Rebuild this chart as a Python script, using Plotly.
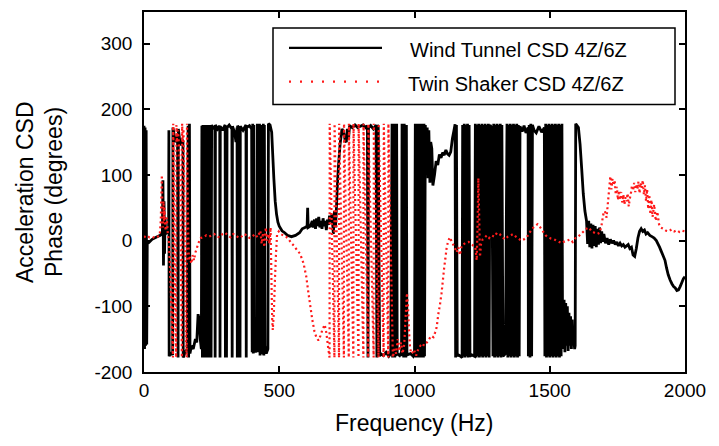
import plotly.graph_objects as go

# ---------------- Wind tunnel CSD 4Z/6Z phase (degrees) ----------------
wind_f1 = [0, 2, 4, 6, 8, 10, 12, 20, 30, 45, 60, 68,
           70, 72, 74, 76, 78, 80, 86, 91, 92, 93,
           100, 106, 107, 112, 118, 124, 126, 127, 134, 140, 144, 145,
           152, 160, 163, 165, 168, 170, 175, 182, 190, 195, 200, 204, 208, 212]
wind_p1 = [175, -165, 172, -160, 168, -158, -5, -2, 2, 5, 8, 12,
           92, -38, 60, -20, 35, 10, 14, 16, 168, -176,
           -170, -174, 172, 160, 150, 162, -178, 170, 145, 155, 150, -178,
           -170, -165, 175, -178, 178, -172, -160, -165, -150, -155, -112, -120, -150, -165]

wind_f2 = [214, 216, 218, 220, 222, 224, 226, 228, 230, 232,
           234, 236, 238, 240, 242, 244, 246, 248, 250, 256,
           262, 263, 264, 272, 280, 281, 282, 290, 300, 301,
           303, 305, 307, 315, 325, 326, 327, 335, 340, 344,
           345, 346, 354, 355, 356, 366, 377, 378, 379, 390,
           398, 400, 402, 404, 406, 408, 412, 418, 419, 421,
           423, 425, 427, 429, 431, 433, 436, 440, 441, 443,
           445, 447, 452, 458, 460, 466, 472, 476, 480, 485,
           490, 495, 500, 510]
wind_p2 = [175, -178, 176, -178, 174, -178, 176, -178, 172, -178,
           176, -178, 174, -178, 176, -178, 172, -178, 176, 170,
           174, -178, 176, 170, 175, -178, 174, 168, 176, -178,
           175, -178, 172, 176, 170, -178, 174, 165, 150, 172,
           -178, 175, 170, -178, 174, 168, 176, -178, 172, 175,
           170, -170, 178, -172, 176, -165, -170, -160, 178, -170,
           176, -168, 178, -175, 176, -165, -170, -172, 178, -175,
           176, -160, -172, -165, 178, 176, 165, 130, 95, 60,
           40, 28, 22, 15]

wind_f3 = [520, 530, 545, 560, 575, 585, 595, 603, 605, 607,
           615, 622, 625, 630, 634, 638, 642, 646, 650, 654,
           658, 662, 666, 670, 674, 678, 682, 686, 690, 695,
           700, 704, 708, 712, 716, 720, 725, 732, 738, 744,
           748, 752, 756, 760, 770, 780, 790, 800, 810, 820,
           826]
wind_p3 = [12, 8, 6, 8, 12, 18, 20, 22, 50, 20,
           22, 30, 20, 32, 18, 34, 22, 36, 20, 30,
           18, 34, 22, 30, 16, 32, 24, 38, 28, 40,
           10, 45, 20, 55, 95, 120, 147, 170, 165, 152,
           150, 170, 155, 175, 172, 176, 172, 174, 176, 172,
           175]

wind_f4 = [828, 830, 838, 848, 858, 861, 863, 866, 871, 875,
           885, 895, 905, 912, 917, 919, 921, 923, 925, 927,
           929, 931, 934, 936, 945, 952, 954, 956, 958, 960,
           962, 964, 966, 968, 970, 972, 985, 995, 1000, 1003,
           1005, 1007, 1009, 1011, 1013, 1015, 1017, 1019, 1021, 1023,
           1025, 1027, 1029, 1031, 1033, 1035, 1037, 1040]
wind_p4 = [-178, 172, 175, 170, 176, -178, 176, 172, -176, -172,
           -175, -170, -176, -172, 178, -178, 176, -176, 178, -178,
           176, -176, 178, -172, -175, -170, 178, -176, 176, -178,
           178, -176, 176, -178, 176, -174, -172, -176, -170, 178,
           -178, 176, -178, 178, -176, 176, -178, 178, -176, 176,
           -178, 178, -176, 176, -178, 178, -176, 176]

wind_f5 = [1044, 1047, 1050, 1053, 1057, 1060, 1064, 1068, 1074, 1080,
           1086, 1092, 1098, 1104, 1110, 1116, 1122, 1128, 1134, 1140,
           1146, 1150]
wind_p5 = [110, 172, 95, 168, 88, 150, 140, 84, 100, 121,
           115, 131, 126, 134, 130, 138, 132, 130, 135, 155,
           168, 177]

wind_f6 = [1152, 1155, 1158, 1162, 1170, 1176, 1178, 1181, 1184, 1187,
           1190, 1193, 1196, 1199, 1202, 1205, 1212, 1222, 1225, 1228,
           1231, 1234, 1237, 1240, 1243, 1246, 1249, 1252, 1255, 1258,
           1261, 1264, 1267, 1270, 1273, 1276, 1279, 1286, 1290, 1293,
           1296, 1299, 1302, 1305, 1308, 1311, 1314, 1317, 1320, 1323,
           1327, 1336, 1342, 1345, 1348, 1351, 1354, 1357, 1360, 1363,
           1366, 1369, 1372, 1375, 1378, 1381, 1384, 1387, 1390, 1398,
           1405, 1412, 1420, 1421, 1424, 1427, 1430, 1433, 1436, 1442,
           1450, 1460, 1470, 1480, 1482, 1485, 1488, 1491, 1494, 1497,
           1500, 1503, 1506, 1509, 1512, 1515, 1518, 1521, 1524, 1527,
           1530, 1533, 1536, 1539, 1542, 1545, 1547, 1550, 1553, 1556,
           1559, 1562, 1565, 1568, 1571, 1574, 1577, 1580, 1583, 1586,
           1589, 1592, 1594, 1596, 1606, 1612, 1618, 1624, 1630]
wind_p6 = [-178, 176, -176, -174, -176, -178, 176, -176, 178, -178,
           176, -176, 178, -178, 176, -176, -174, -176, 178, -178,
           176, -176, 178, -178, 176, -176, 178, -178, 176, -176,
           178, -178, 176, -176, 178, -178, 176, 172, -176, 178,
           -178, 176, -176, 178, -178, 176, -176, 178, -178, 176,
           -176, -172, 178, -178, 176, -176, 178, -178, 176, -176,
           178, -178, 176, -176, 178, -178, 176, -176, 174, 166,
           175, 164, 172, -176, 176, -178, 178, -176, 176, 168,
           164, 174, 165, 172, -176, 178, -178, 176, -176, 178,
           -178, 176, -176, 178, -178, 176, -176, 178, -178, 176,
           -176, 178, -178, 176, -176, 178, -100, -165, -90, -170,
           -95, -160, -100, -168, -110, -160, -115, -165, -120, -158,
           -150, -165, -160, 178, 172, 147, 110, 71, 45]

wind_f7 = [1636, 1640, 1644, 1648, 1652, 1656, 1660, 1664, 1668, 1672,
           1676, 1680, 1684, 1688, 1692, 1696, 1700, 1706, 1712, 1718,
           1724, 1730, 1736, 1742, 1748, 1754, 1760, 1766, 1772, 1778,
           1784, 1790, 1796, 1802, 1808, 1814, 1820, 1826, 1832, 1838,
           1844, 1850, 1856, 1862, 1870, 1878, 1886, 1894, 1900, 1906,
           1912, 1918, 1926, 1932, 1938, 1945, 1952, 1958, 1964, 1970,
           1976, 1982, 1988, 1994, 2000]
wind_p7 = [30, -5, 30, -10, 26, -12, 24, -8, 22, -10,
           18, -6, 20, -4, 14, -2, 10, -4, 4, -6,
           2, -4, 0, -6, -2, -8, -4, -8, -6, -10,
           -8, -6, -12, -10, -22, -24, -12, 4, 14, 18,
           14, 16, 10, 12, 8, 6, 4, 0, -5, -10,
           -16, -22, -30, -42, -52, -60, -66, -70, -72, -76,
           -75, -70, -64, -58, -55]

# ---------------- Twin shaker CSD 4Z/6Z phase (degrees) ----------------
shaker_f1 = [0, 10, 20, 30, 40, 50, 58, 62, 66, 68,
             70, 72, 74, 76, 78, 80, 84, 88, 92, 96,
             100, 104, 107, 108, 110, 113, 116, 119, 120, 122,
             126, 130, 134, 137, 140, 141, 143, 146, 149, 152,
             155, 158, 159, 161, 164, 166, 170, 175, 180, 185,
             190, 195, 200, 205, 210]
shaker_p1 = [5, 8, 5, 6, 4, 6, 8, 30, 100, 40,
             20, 60, 30, 50, 25, 15, 35, 10, 0, -40,
             -90, -140, -178, 178, 100, -20, -120, -178, 176, 150,
             168, 140, 60, -60, -178, 178, 150, 170, 80, -40,
             -150, -178, 178, 90, 0, -30, -25, -35, -22, -30,
             -18, -12, -5, 0, 4]

shaker_f2 = [220, 230, 240, 250, 260, 270, 280, 290, 300, 310,
             320, 330, 340, 350, 360, 370, 380, 390, 400, 410,
             420, 430, 435, 440, 445, 450, 455, 460, 464, 468,
             470, 472, 474, 476, 480, 484, 488, 492, 498, 505,
             515, 525, 535, 545, 555, 565, 577, 590, 600, 608,
             615, 622, 630, 638, 645, 652, 660, 668, 674, 680,
             686]
shaker_p2 = [5, 8, 6, 8, 10, 6, 5, 10, 12, 8,
             5, 10, 8, 4, 6, 10, 8, 4, 6, 10,
             5, 15, -5, 12, -10, 20, 0, 10, -5, 20,
             -30, -80, -120, -136, -110, -60, -20, 10, 14, 10,
             8, 6, 2, -4, -8, -14, -20, -35, -55, -80,
             -100, -120, -138, -148, -152, -145, -135, -128, -140, -160,
             -178]

shaker_f3 = [686.5, 704, 704.5, 721, 721.5, 739, 739.5, 757, 757.5, 774,
             774.5, 793, 793.5, 811, 811.5, 829, 829.5, 849, 849.5, 867,
             867.5, 886, 886.5, 903, 903.5, 920]
shaker_p3 = [178, -178, 178, -178, 178, -178, 178, -178, 178, -178,
             178, -178, 178, -178, 178, -178, 178, -178, 178, -178,
             178, -178, 178, -178, 178, -178]

shaker_f4 = [926, 932, 938, 944, 950, 956, 962, 968, 972, 976,
             980, 984, 990, 998, 1006, 1014, 1022, 1030, 1038, 1046,
             1054, 1062, 1070, 1076, 1082, 1088, 1094, 1100, 1106, 1110,
             1114, 1119, 1125, 1131, 1136, 1142]
shaker_p4 = [-165, -172, -150, -168, -155, -172, -158, -110, -80, -100,
             -140, -165, -172, -166, -175, -165, -160, -162, -155, -155,
             -150, -145, -147, -140, -132, -112, -98, -80, -56, -40,
             -28, -10, 0, 5, 0, -5]

shaker_f5 = [1150, 1156, 1162, 1168, 1174, 1180, 1190, 1200, 1210, 1218,
             1225, 1230, 1233, 1236, 1239, 1242, 1246, 1252, 1260, 1268,
             1276, 1285, 1295, 1305, 1315, 1325, 1335, 1345, 1355, 1365,
             1375, 1385, 1395, 1405, 1415, 1425, 1435, 1445, 1455, 1465,
             1475, 1485, 1495, 1505, 1515, 1525, 1535, 1545, 1555, 1565,
             1575, 1585, 1595, 1605, 1615, 1625, 1635, 1645, 1655, 1665,
             1675]
shaker_p5 = [-12, -18, -10, -22, -8, -6, -3, -2, -5, -8,
             -10, -30, 20, 95, 40, -25, -5, 2, 5, 8,
             4, 8, 6, 12, 10, 5, 2, 6, 8, 10,
             6, 3, 0, 2, 5, 12, 18, 22, 25, 20,
             14, 8, 5, 3, 2, 0, -2, -4, -1, 0,
             2, -2, 4, 6, 10, 14, 18, 20, 14, 12,
             10]

shaker_f6 = [1685, 1692, 1698, 1704, 1710, 1716, 1720, 1724, 1728, 1732,
             1736, 1740, 1744, 1748, 1752, 1756, 1760, 1764, 1768, 1772,
             1776, 1780, 1784, 1788, 1792, 1796, 1800, 1804, 1808, 1812,
             1816, 1820, 1824, 1828, 1832, 1836, 1840, 1844, 1848, 1852,
             1856, 1860, 1864, 1868, 1872, 1876, 1880, 1886, 1892, 1898,
             1904, 1910, 1920, 1930, 1940, 1950, 1960, 1970, 1980, 1990,
             2000]
shaker_p6 = [12, 25, 40, 45, 35, 62, 80, 98, 78, 94,
             84, 92, 70, 82, 62, 76, 62, 74, 58, 70,
             55, 66, 60, 72, 52, 64, 72, 84, 76, 88,
             74, 86, 78, 90, 72, 88, 80, 92, 70, 84,
             60, 78, 48, 70, 40, 62, 36, 55, 30, 44,
             25, 20, 18, 15, 14, 17, 14, 16, 13, 15,
             14]

x_ticks = [0, 500, 1000, 1500, 2000]
y_ticks = [-200, -100, 0, 100, 200, 300]
y_tick_text = ["-200", "-100", "0", "100", "200", "300"]
legend_labels = ["Wind Tunnel CSD 4Z/6Z", "Twin Shaker CSD 4Z/6Z"]

wind_freq = wind_f1 + wind_f2 + wind_f3 + wind_f4 + wind_f5 + wind_f6 + wind_f7
wind_phase = wind_p1 + wind_p2 + wind_p3 + wind_p4 + wind_p5 + wind_p6 + wind_p7
shaker_freq = shaker_f1 + shaker_f2 + shaker_f3 + shaker_f4 + shaker_f5 + shaker_f6
shaker_phase = shaker_p1 + shaker_p2 + shaker_p3 + shaker_p4 + shaker_p5 + shaker_p6

FONT = "Liberation Sans, Arial, Helvetica, sans-serif"
RED = "#ff1a1a"

fig = go.Figure()
fig.add_trace(go.Scatter(
    x=wind_freq, y=wind_phase, mode="lines", name=legend_labels[0],
    line=dict(color="black", width=2.8, simplify=False), showlegend=False,
))
fig.add_trace(go.Scatter(
    x=shaker_freq, y=shaker_phase, mode="lines", name=legend_labels[1],
    line=dict(color=RED, width=2.2, dash="2px,3px", simplify=False), showlegend=False,
))

# plot area in pixels: x 144..685, y 10..372
L, R, T, B = 144, 685, 10, 372
def px(x):
    return (x - L) / (R - L)
def py(y):
    return (B - y) / (B - T)

axis_common = dict(
    showgrid=False, zeroline=False, showline=True, linecolor="black", linewidth=1.5,
    mirror="ticks", ticks="inside", ticklen=6, tickwidth=1.5, tickcolor="black",
    tickfont=dict(family=FONT, size=19, color="black"),
)

fig.update_layout(
    width=719, height=446,
    margin=dict(l=L, r=719 - R, t=T, b=446 - B),
    paper_bgcolor="white", plot_bgcolor="white",
    xaxis=dict(range=[0, 2000], tickvals=x_ticks, **axis_common),
    yaxis=dict(range=[-200, 348], tickvals=y_ticks, ticktext=y_tick_text,
               ticklabelstandoff=6, **axis_common),
    showlegend=False,
)

# axis titles
fig.add_annotation(text="Frequency (Hz)", xref="paper", yref="paper",
                   x=px(414), y=py(423), xanchor="center", yanchor="middle",
                   showarrow=False, font=dict(family=FONT, size=23, color="black"))
fig.add_annotation(text="Acceleration CSD", xref="paper", yref="paper",
                   x=px(25), y=py(191), xanchor="center", yanchor="middle", textangle=-90,
                   showarrow=False, font=dict(family=FONT, size=23, color="black"))
fig.add_annotation(text="Phase (degrees)", xref="paper", yref="paper",
                   x=px(54), y=py(191), xanchor="center", yanchor="middle", textangle=-90,
                   showarrow=False, font=dict(family=FONT, size=23, color="black"))

# legend box with line samples
fig.add_shape(type="rect", xref="paper", yref="paper",
              x0=px(273), x1=px(675), y0=py(103), y1=py(26),
              line=dict(color="black", width=1.5), fillcolor="white", layer="above")
fig.add_shape(type="line", xref="paper", yref="paper",
              x0=px(289), x1=px(382), y0=py(46), y1=py(46),
              line=dict(color="black", width=2.2), layer="above")
fig.add_shape(type="line", xref="paper", yref="paper",
              x0=px(289), x1=px(382), y0=py(80), y1=py(80),
              line=dict(color=RED, width=2.2, dash="2px,9px"), layer="above")
fig.add_annotation(text=legend_labels[0], xref="paper", yref="paper",
                   x=px(408), y=py(48), xanchor="left", yanchor="middle",
                   showarrow=False, font=dict(family=FONT, size=20, color="black"))
fig.add_annotation(text=legend_labels[1], xref="paper", yref="paper",
                   x=px(406), y=py(82), xanchor="left", yanchor="middle",
                   showarrow=False, font=dict(family=FONT, size=20, color="black"))

fig.write_html("out.html")
